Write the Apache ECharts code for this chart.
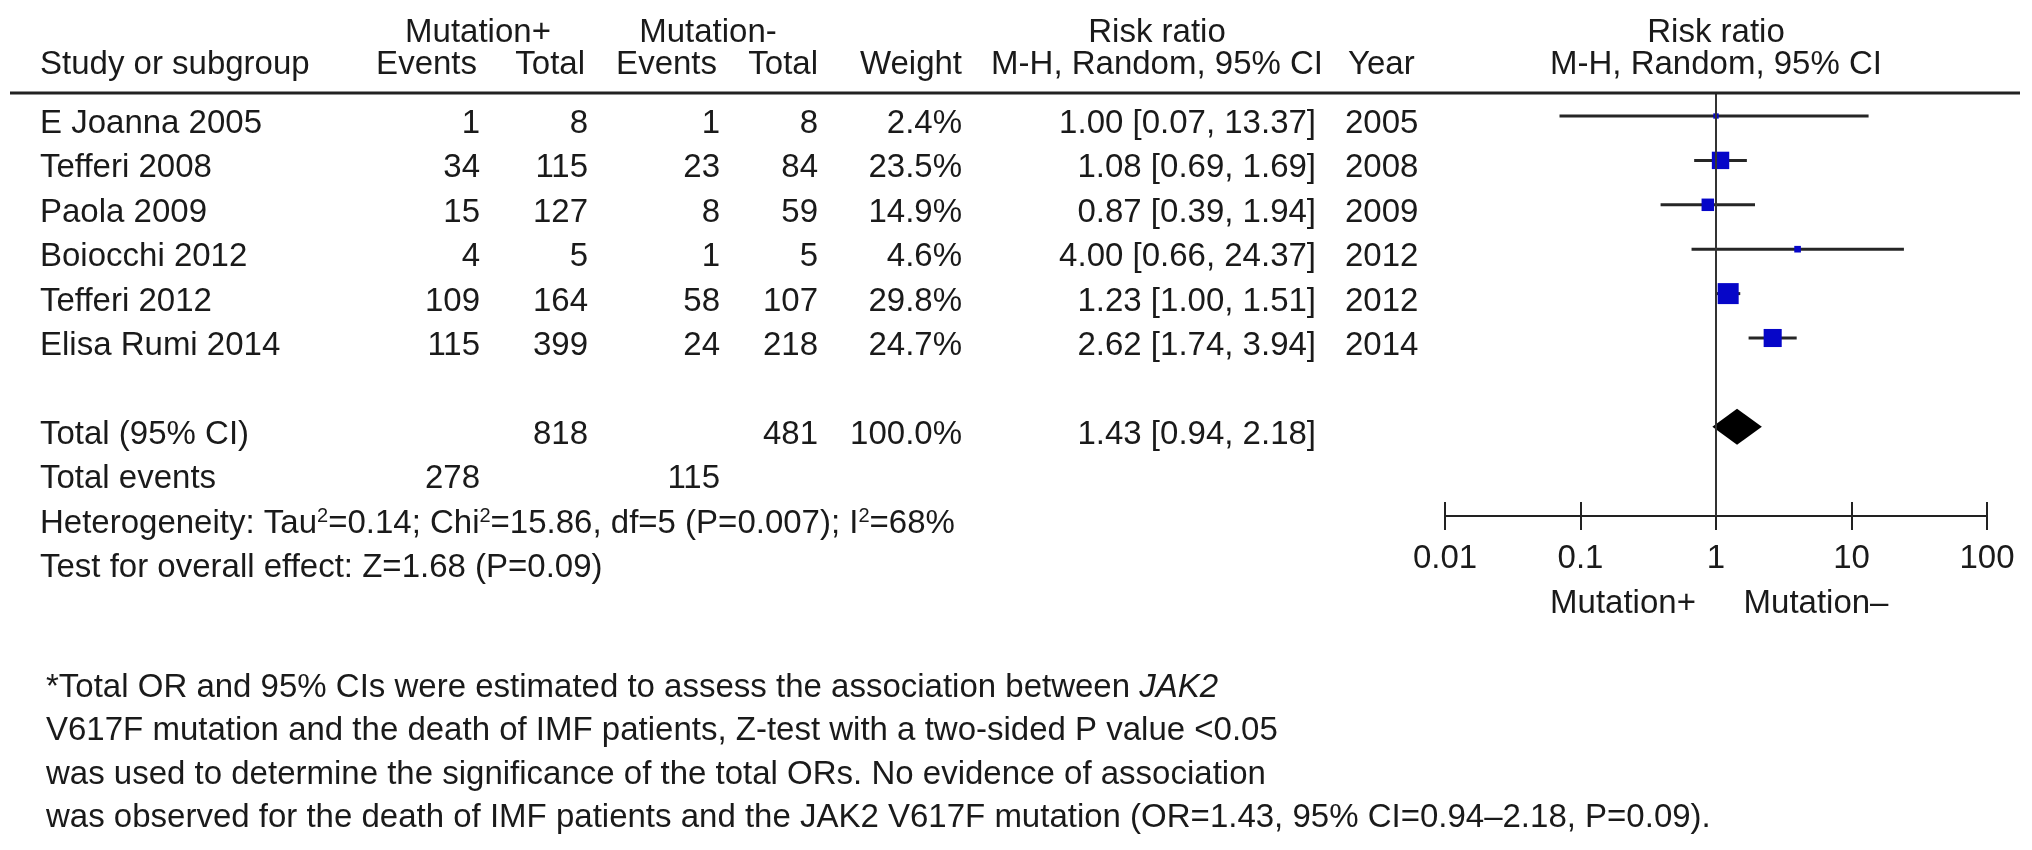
<!DOCTYPE html>
<html>
<head>
<meta charset="utf-8">
<style>
html,body{margin:0;padding:0;background:#fff;}
#chart{width:2032px;height:850px;}
</style>
<script src="https://cdn.jsdelivr.net/npm/echarts@6/dist/echarts.min.js"></script>
</head>
<body>
<div id="chart"></div>
<script>
// ---------- data ----------
const studies   = ['E Joanna 2005','Tefferi 2008','Paola 2009','Boiocchi 2012','Tefferi 2012','Elisa Rumi 2014'];
const eventsPos = [1, 34, 15, 4, 109, 115];
const totalPos  = [8, 115, 127, 5, 164, 399];
const eventsNeg = [1, 23, 8, 1, 58, 24];
const totalNeg  = [8, 84, 59, 5, 107, 218];
const weights   = [2.4, 23.5, 14.9, 4.6, 29.8, 24.7];
const rr        = [1.00, 1.08, 0.87, 4.00, 1.23, 2.62];
const rrLow     = [0.07, 0.69, 0.39, 0.66, 1.00, 1.74];
const rrHigh    = [13.37, 1.69, 1.94, 24.37, 1.51, 3.94];
const years     = [2005, 2008, 2009, 2012, 2012, 2014];

const pooled      = [0.94, 1.43, 2.18]; // low, est, high
const pooledTotalPos = 818, pooledTotalNeg = 481, pooledWeight = 100.0;
const totalEventsPos = 278, totalEventsNeg = 115;
const tickLabels  = ['0.01', '0.1', '1', '10', '100'];

const heterogeneity = 'Heterogeneity: Tau{sup|2}=0.14; Chi{sup|2}=15.86, df=5 (P=0.007); I{sup|2}=68%';
const overallEffect = 'Test for overall effect: Z=1.68 (P=0.09)';
const footnote = [
  '*Total OR and 95% CIs were estimated to assess the association between {it|JAK2}',
  'V617F mutation and the death of IMF patients, Z-test with a two-sided P value <0.05',
  'was used to determine the significance of the total ORs. No evidence of association',
  'was observed for the death of IMF patients and the JAK2 V617F mutation (OR=1.43, 95% CI=0.94–2.18, P=0.09).'
];

// ---------- layout ----------
const FONT = 'Liberation Sans, Arial, Helvetica, sans-serif';
const FS = 33;
const TXT = '#1a1a1a';
const col = { name: 40, evPos: 480, totPos: 588, evNeg: 720, totNeg: 818, weight: 962, ci: 1316, year: 1345 };
const rowY = i => 124 + 44.4 * i;
const TOTAL_ROW = 7;

const g = [];
function txt(s, x, y, align, extra) {
  g.push({
    type: 'text', x: x, y: y, silent: true,
    style: Object.assign({ text: s, fill: TXT, fontSize: FS, fontFamily: FONT,
      textAlign: align || 'left', textVerticalAlign: 'middle' }, extra || {})
  });
}
// headers
txt('Mutation+', 478, 33, 'center');
txt('Mutation-', 708, 33, 'center');
txt('Risk ratio', 1157, 33, 'center');
txt('Risk ratio', 1716, 33, 'center');
txt('Study or subgroup', col.name, 65, 'left');
txt('Events', col.evPos - 3, 65, 'right');
txt('Total', col.totPos - 3, 65, 'right');
txt('Events', col.evNeg - 3, 65, 'right');
txt('Total', col.totNeg, 65, 'right');
txt('Weight', col.weight, 65, 'right');
txt('M-H, Random, 95% CI', col.ci + 7, 65, 'right');
txt('Year', col.year + 3, 65, 'left');
txt('M-H, Random, 95% CI', 1716, 65, 'center');
// rule
g.push({ type: 'line', silent: true, z: 10, shape: { x1: 10, y1: 93, x2: 2020, y2: 93 },
  style: { stroke: '#222', lineWidth: 3 } });
// study rows
studies.forEach((s, i) => {
  const y = rowY(i);
  txt(s, col.name, y, 'left');
  txt(String(eventsPos[i]), col.evPos, y, 'right');
  txt(String(totalPos[i]), col.totPos, y, 'right');
  txt(String(eventsNeg[i]), col.evNeg, y, 'right');
  txt(String(totalNeg[i]), col.totNeg, y, 'right');
  txt(weights[i].toFixed(1) + '%', col.weight, y, 'right');
  txt(rr[i].toFixed(2) + ' [' + rrLow[i].toFixed(2) + ', ' + rrHigh[i].toFixed(2) + ']', col.ci, y, 'right');
  txt(String(years[i]), col.year, y, 'left');
});
// totals
txt('Total (95% CI)', col.name, rowY(TOTAL_ROW), 'left');
txt(String(pooledTotalPos), col.totPos, rowY(TOTAL_ROW), 'right');
txt(String(pooledTotalNeg), col.totNeg, rowY(TOTAL_ROW), 'right');
txt(pooledWeight.toFixed(1) + '%', col.weight, rowY(TOTAL_ROW), 'right');
txt(pooled[1].toFixed(2) + ' [' + pooled[0].toFixed(2) + ', ' + pooled[2].toFixed(2) + ']', col.ci, rowY(TOTAL_ROW), 'right');
txt('Total events', col.name, rowY(8), 'left');
txt(String(totalEventsPos), col.evPos, rowY(8), 'right');
txt(String(totalEventsNeg), col.evNeg, rowY(8), 'right');
txt(heterogeneity, col.name, rowY(9), 'left', {
  rich: { sup: { fontSize: 20, fontFamily: FONT, fill: TXT, padding: [0, 0, 15, 0] } }
});
txt(overallEffect, col.name, rowY(10), 'left');
// footnote
footnote.forEach((line, i) => {
  txt(line, 46, 688 + 43.3 * i, 'left', {
    rich: { it: { fontStyle: 'italic', fontSize: FS, fontFamily: FONT, fill: TXT } }
  });
});
// forest labels
txt('Mutation+', 1623, 604, 'center');
txt('Mutation–', 1816, 604, 'center');

// ---------- series data ----------
const ciData = studies.map((s, i) => [rrLow[i], rrHigh[i], i]);
const sqData = studies.map((s, i) => [rr[i], i, weights[i]]);
const diamondData = [[pooled[0], pooled[1], pooled[2], TOTAL_ROW]];

const gridBox = { left: 1445, right: 45, top: 93, bottom: 334, containLabel: false };
const axisCommon = {
  type: 'log', logBase: 10, min: 0.01, max: 100, position: 'bottom',
  axisLine: { show: true, onZero: false, lineStyle: { color: '#222', width: 2 } },
  splitLine: { show: false }
};
const yCommon = { type: 'value', inverse: true, min: -0.518, max: 9.009, show: false };

const option = {
  animation: false,
  backgroundColor: '#fff',
  grid: [Object.assign({}, gridBox), Object.assign({}, gridBox)],
  xAxis: [
    Object.assign({}, axisCommon, {
      gridIndex: 0,
      axisTick: { show: true, inside: false, length: 14, lineStyle: { color: '#222', width: 2 } },
      axisLabel: { show: true, margin: 26, color: TXT, fontSize: FS, fontFamily: FONT,
        formatter: (v, idx) => tickLabels[idx] }
    }),
    Object.assign({}, axisCommon, {
      gridIndex: 1,
      axisTick: { show: true, inside: true, length: 14, lineStyle: { color: '#222', width: 2 } },
      axisLabel: { show: false }
    })
  ],
  yAxis: [Object.assign({ gridIndex: 0 }, yCommon), Object.assign({ gridIndex: 1 }, yCommon)],
  graphic: g,
  series: [
    {
      type: 'custom', xAxisIndex: 0, yAxisIndex: 0, z: 2,
      encode: { x: [0, 1], y: 2 },
      data: ciData,
      renderItem: (params, api) => {
        const a = api.coord([api.value(0), api.value(2)]);
        const b = api.coord([api.value(1), api.value(2)]);
        return { type: 'line', shape: { x1: a[0], y1: a[1], x2: b[0], y2: b[1] },
          style: { stroke: '#262626', lineWidth: 3 } };
      }
    },
    {
      type: 'scatter', xAxisIndex: 0, yAxisIndex: 0, z: 3,
      symbol: 'rect',
      symbolSize: v => 4 + 0.57 * v[2],
      itemStyle: { color: '#0606c8', opacity: 1 },
      data: sqData,
      markLine: {
        silent: true, symbol: 'none', animation: false,
        label: { show: false },
        lineStyle: { color: '#333', width: 2, type: 'solid' },
        data: [{ xAxis: 1 }]
      }
    },
    {
      type: 'custom', xAxisIndex: 0, yAxisIndex: 0, z: 4,
      encode: { x: [0, 1, 2], y: 3 },
      data: diamondData,
      renderItem: (params, api) => {
        const lo = api.coord([api.value(0), api.value(3)]);
        const mid = api.coord([api.value(1), api.value(3)]);
        const hi = api.coord([api.value(2), api.value(3)]);
        const h = 18;
        return { type: 'polygon',
          shape: { points: [[lo[0], lo[1]], [mid[0], mid[1] - h], [hi[0], hi[1]], [mid[0], mid[1] + h]] },
          style: { fill: '#000' } };
      }
    }
  ]
};

const chart = echarts.init(document.getElementById('chart'));
chart.setOption(option);
</script>
</body>
</html>
